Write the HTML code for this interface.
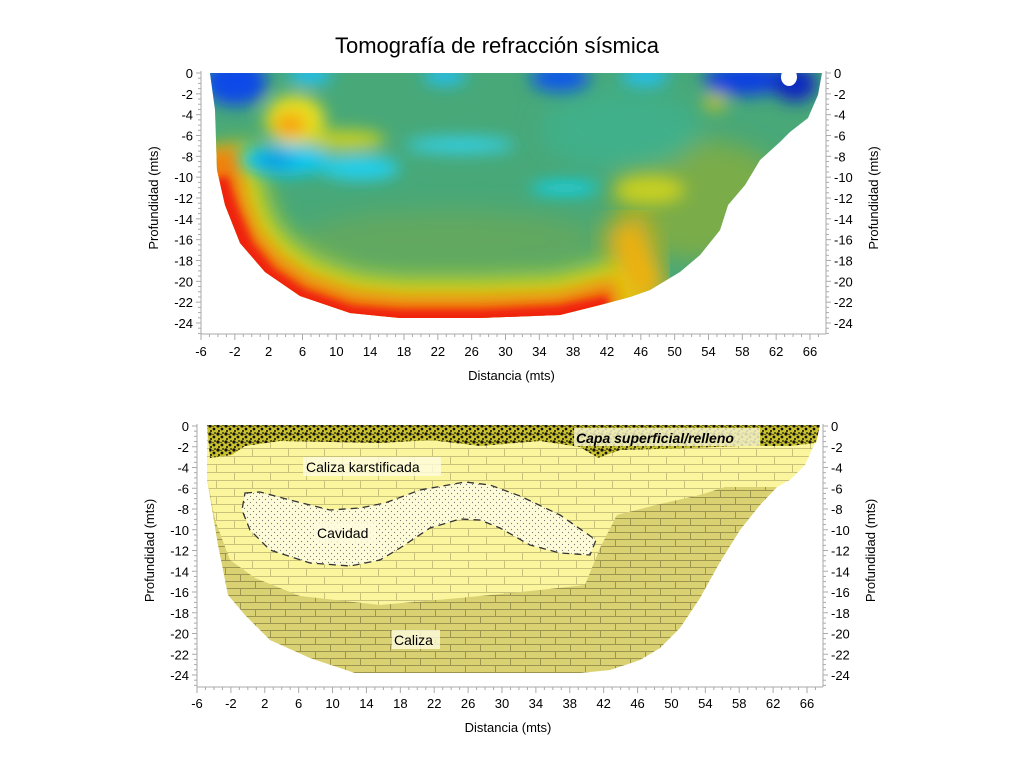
<!DOCTYPE html>
<html><head><meta charset="utf-8"><style>
body{margin:0;background:#fff;width:1024px;height:768px;overflow:hidden}
svg{display:block}
text{font-family:"Liberation Sans",sans-serif;fill:#000}
</style></head><body>
<svg id="s" width="1024" height="768" viewBox="0 0 1024 768" xmlns="http://www.w3.org/2000/svg">
<defs>
<clipPath id="bowl"><path d="M210,73 L822,73 L818,95 L808,118 L790,132 L780,142 L760,160 L745,185 L728,205 L720,230 L700,255 L680,272 L650,290 L630,297 L600,305 L560,315 L480,318 L400,318 L350,313 L300,296 L265,272 L240,243 L225,205 L217,170 L215,110 Z"/></clipPath>
<filter id="b8" x="-50%" y="-50%" width="200%" height="200%"><feGaussianBlur stdDeviation="8"/></filter>
<filter id="b4" x="-50%" y="-50%" width="200%" height="200%"><feGaussianBlur stdDeviation="4"/></filter>
<filter id="b12" x="-50%" y="-50%" width="200%" height="200%"><feGaussianBlur stdDeviation="12"/></filter>
<pattern id="brk1" width="36" height="16" patternUnits="userSpaceOnUse">
<rect width="36" height="16" fill="#fbf59d"/>
<path d="M0,0.5H36M0,8.5H36M0.5,0V8M18.5,8V16" stroke="#c9c27a" stroke-width="1" fill="none"/></pattern>
<pattern id="brk2" width="30" height="14" patternUnits="userSpaceOnUse">
<rect width="30" height="14" fill="#d9d172"/>
<path d="M0,0.5H30M0,7.5H30M0.5,0V7M15.5,7V14" stroke="#9c9550" stroke-width="1" fill="none"/></pattern>
<pattern id="dots" width="6" height="6" patternUnits="userSpaceOnUse">
<rect width="6" height="6" fill="#fdfbd8"/><circle cx="1.5" cy="1.5" r="0.6" fill="#777"/><circle cx="4.5" cy="4.5" r="0.6" fill="#777"/></pattern>
<pattern id="grav" width="8" height="8" patternUnits="userSpaceOnUse">
<rect width="8" height="8" fill="#c8c02c"/><circle cx="2" cy="2" r="1.6" fill="#111"/><circle cx="6" cy="5" r="1.4" fill="#111"/><circle cx="3" cy="7" r="1" fill="#111"/><circle cx="7" cy="1" r="0.9" fill="#111"/><circle cx="5" cy="2.5" r="0.6" fill="#111"/></pattern>
</defs>

<text x="497" y="53" font-size="22" text-anchor="middle">Tomografía de refracción sísmica</text>

<!-- top tomography -->
<g clip-path="url(#bowl)">
<rect x="200" y="60" width="640" height="270" fill="#48a878"/>
<g filter="url(#b12)">
<ellipse cx="700" cy="200" rx="90" ry="60" fill="#7aac48"/>
<ellipse cx="620" cy="130" rx="80" ry="40" fill="#3fb08a"/>
<ellipse cx="450" cy="240" rx="150" ry="30" fill="#62a860"/>
</g>
<path d="M217,150 L225,205 L240,243 L265,272 L300,296 L350,313 L400,318 L480,318 L560,315 L600,305 L630,297 L650,290" fill="none" stroke="#d8d818" stroke-width="80" filter="url(#b12)"/>
<path d="M610,250 L630,240 L650,300" fill="none" stroke="#f0b010" stroke-width="40" filter="url(#b12)"/>
<ellipse cx="650" cy="190" rx="35" ry="14" fill="#c8d020" filter="url(#b8)"/>
<path d="M215,150 L225,205 L240,243 L265,272 L300,296 L350,313 L400,318 L480,318 L560,315 L620,300" fill="none" stroke="#f08010" stroke-width="44" filter="url(#b8)"/>
<path d="M213,180 L225,215 L240,250 L265,280 L300,303 L350,320 L400,324 L480,324 L560,320 L610,310" fill="none" stroke="#f02010" stroke-width="30" filter="url(#b4)"/>
<g filter="url(#b8)">
<ellipse cx="295" cy="120" rx="30" ry="25" fill="#e8e020"/>
<ellipse cx="290" cy="125" rx="16" ry="12" fill="#f8a010"/>
<ellipse cx="345" cy="140" rx="40" ry="10" fill="#c8d020"/>
<ellipse cx="715" cy="102" rx="12" ry="9" fill="#b8c030"/>
<ellipse cx="285" cy="160" rx="45" ry="16" fill="#10c8f0"/>
<ellipse cx="275" cy="160" rx="20" ry="8" fill="#1098e0"/>
<ellipse cx="360" cy="168" rx="40" ry="12" fill="#20d0f0"/>
<ellipse cx="460" cy="145" rx="55" ry="8" fill="#30d0e8"/>
<ellipse cx="565" cy="188" rx="35" ry="6" fill="#10d8f8"/>
<ellipse cx="235" cy="82" rx="32" ry="24" fill="#0c48e8"/>
<ellipse cx="310" cy="75" rx="22" ry="10" fill="#20c0f0"/>
<ellipse cx="445" cy="76" rx="22" ry="9" fill="#20c0f0"/>
<ellipse cx="560" cy="78" rx="30" ry="14" fill="#0c58e8"/>
<ellipse cx="645" cy="76" rx="24" ry="10" fill="#20c0f0"/>
<ellipse cx="745" cy="80" rx="42" ry="16" fill="#0c40e0"/>
<ellipse cx="795" cy="84" rx="22" ry="18" fill="#0828c0"/>
</g>
<ellipse cx="789" cy="77" rx="8" ry="9" fill="#fff"/>
</g>

<!-- bottom geology -->
<path d="M207,425 L820,425 L814,445 L805,465 L790,480 L777,487 L760,505 L740,530 L720,562 L700,598 L680,628 L660,648 L640,660 L610,670 L580,673 L355,673 L310,658 L270,640 L245,615 L228,585 L218,545 L207,480 Z" fill="url(#brk1)"/>
<path d="M207,478 L215,520 L230,560 L255,578 L300,596 L380,605 L460,598 L540,590 L585,585 L600,548 L617,515 L660,504 L700,495 L725,487 L777,487 L760,505 L740,530 L720,562 L700,598 L680,628 L660,648 L640,660 L610,670 L580,673 L355,673 L310,658 L270,640 L245,615 L228,595 L218,545 Z" fill="url(#brk2)"/>
<path d="M207,425 L820,425 L816,443 L790,446 L740,446 L690,448 L620,450 L598,458 L580,447 L540,441 L480,446 L430,440 L380,443 L280,441 L245,446 L232,455 L210,458 Z" fill="url(#grav)"/>
<path d="M245,493 L260,492 L290,500 L330,510 L360,508 L385,503 L420,490 L465,482 L490,485 L520,496 L560,515 L596,540 L590,555 L560,553 L530,545 L500,528 L480,520 L460,519 L430,528 L400,548 L380,560 L350,566 L310,563 L270,550 L250,530 L242,510 Z" fill="url(#dots)" stroke="#333" stroke-width="1.3" stroke-dasharray="7,5"/>
<rect x="303" y="457" width="138" height="19" fill="#fffde0" opacity="0.8"/>
<text x="306" y="472" font-size="14">Caliza karstificada</text>
<rect x="314" y="523" width="62" height="19" fill="#fffde0" opacity="0.8"/>
<text x="317" y="538" font-size="14">Cavidad</text>
<rect x="392" y="630" width="48" height="19" fill="#fffde0" opacity="0.8"/>
<text x="394" y="645" font-size="14">Caliza</text>
<rect x="574" y="428" width="186" height="18" fill="#f4f2c8" opacity="0.85"/>
<text x="576" y="443" font-size="14" font-weight="bold" font-style="italic">Capa superficial/relleno</text>

<g id="axes"></g>
</svg>
<script>
var g=document.getElementById('axes'),NS='http://www.w3.org/2000/svg';
function el(t,a,txt){var e=document.createElementNS(NS,t);for(var k in a)e.setAttribute(k,a[k]);if(txt!=null)e.textContent=txt;g.appendChild(e);return e;}
function chart(x0,x1,yTop,yBot,axY,rX,labY,titY){
 var sx=(x1-x0)/72, sy=(yBot-yTop)/24, c='#aaa';
 el('line',{x1:x0,y1:yTop-2,x2:x0,y2:axY,stroke:c});
 el('line',{x1:rX,y1:yTop-2,x2:rX,y2:axY,stroke:c});
 el('line',{x1:x0,y1:axY,x2:rX,y2:axY,stroke:c});
 for(var v=-6;v<=68;v++){var x=x0+(v+6)*sx;if(x>rX)break;var maj=(v+6)%4==0;
  el('line',{x1:x,y1:axY,x2:x,y2:axY+(maj?6:3),stroke:c});
  if(maj)el('text',{x:x,y:labY,'font-size':13,'text-anchor':'middle'},String(v));}
 for(var d=0;d<=25;d+=0.5){var y=yTop+d*sy;if(y>axY)break;var maj=(d%2==0)&&d<=24;
  el('line',{x1:x0,y1:y,x2:x0-(maj?5:3),y2:y,stroke:c});
  el('line',{x1:rX,y1:y,x2:rX+(maj?5:3),y2:y,stroke:c});
  if(maj){el('text',{x:x0-8,y:y+5,'font-size':13,'text-anchor':'end'},d==0?'0':'-'+d);
   el('text',{x:rX+8,y:y+5,'font-size':13},d==0?'0':'-'+d);}}
 el('text',{x:(x0+rX)/2-2,y:titY,'font-size':13,'text-anchor':'middle'},'Distancia (mts)');
 var m=(yTop+yBot)/2;
 el('text',{x:0,y:0,'font-size':13,'text-anchor':'middle',transform:'translate('+(x0-43)+','+m+') rotate(-90)'},'Profundidad (mts)');
 el('text',{x:0,y:0,'font-size':13,'text-anchor':'middle',transform:'translate('+(rX+52)+','+m+') rotate(-90)'},'Profundidad (mts)');
}
chart(201,810,73,323,334,826,356,380);
chart(197,807,426,675,687,823,708,732);
</script>
</body></html>
